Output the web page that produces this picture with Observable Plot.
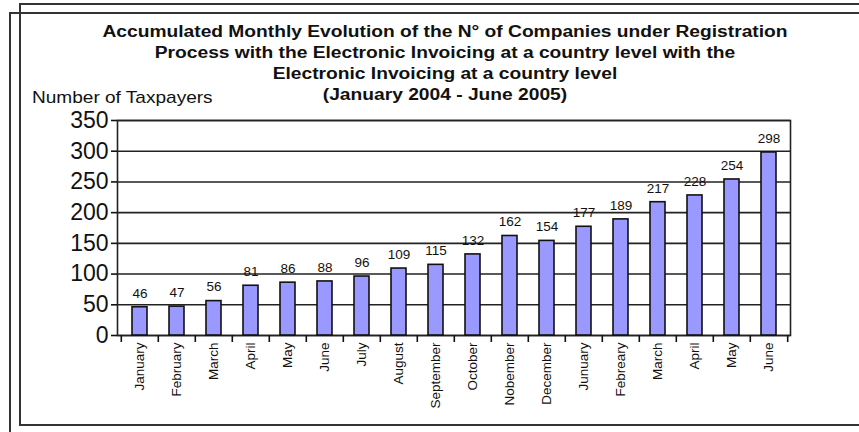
<!DOCTYPE html>
<html>
<head>
<meta charset="utf-8">
<script src="https://cdn.jsdelivr.net/npm/d3@7"></script>
<script src="https://cdn.jsdelivr.net/npm/@observablehq/plot@0.6"></script>
<style>
  html, body { margin: 0; padding: 0; background: #fff; }
  #wrap { position: relative; width: 859px; height: 432px; overflow: hidden; font-family: "Liberation Sans", Arial, sans-serif; }
  #chart { position: absolute; left: 0; top: 0; }
  .box { position: absolute; border: 2px solid #333; box-sizing: border-box; }
  #title { position: absolute; left: 0; top: 21px; width: 890px; text-align: center; font-weight: bold; font-size: 16px; line-height: 21px; color: #111; transform: scaleX(1.2); transform-origin: 445px 0; }
  #ylab { position: absolute; left: 32px; top: 88px; font-size: 17px; color: #111; transform: scaleX(1.12); transform-origin: 0 0; }
</style>
</head>
<body>
<div id="wrap">
  <div id="chart"></div>
  <div class="box" style="left:19px; top:3px; width:900px; height:423px;"></div>
  <div class="box" style="left:9px; top:12px; width:900px; height:440px;"></div>
  <div id="title">Accumulated Monthly Evolution of the N° of Companies under Registration<br>Process with the Electronic Invoicing at a country level with the<br>Electronic Invoicing at a country level<br>(January 2004 - June 2005)</div>
  <div id="ylab">Number of Taxpayers</div>
</div>
<script>
const monthLabels = ["January","February","March","April","May","June","July","August","September","October","Nobember","December","Junuary","Febreary","March","April","May","June"];
const taxpayers = [46,47,56,81,86,88,96,109,115,132,162,154,177,189,217,228,254,298];
const yTicks = [0,50,100,150,200,250,300,350];

const data = monthLabels.map((label, i) => ({i, label, value: taxpayers[i]}));
const idx = d3.range(monthLabels.length);

const W = 859, H = 432, ML = 117, MR = 69, MT = 120, MB = 97;
const step = (W - ML - MR) / monthLabels.length;

const chart = Plot.plot({
  width: W,
  height: H,
  marginLeft: ML,
  marginRight: MR,
  marginTop: MT,
  marginBottom: MB,
  style: {background: "transparent", fontFamily: "Liberation Sans, Arial, sans-serif", color: "#111"},
  x: {type: "band", domain: idx, paddingInner: 0.6, paddingOuter: 0.3},
  y: {domain: [0, 350]},
  marks: [
    Plot.gridY(yTicks, {stroke: "#222", strokeOpacity: 1, strokeWidth: 1.6}),
    Plot.frame({stroke: "#222", strokeWidth: 1.6}),
    Plot.barY(data, {x: "i", y: "value", fill: "#9999ff", stroke: "#111", strokeWidth: 1.6}),
    Plot.text(data, {x: "i", y: "value", text: d => String(d.value), dy: -14, fontSize: 13.5, fill: "#111"}),
    Plot.axisY({ticks: yTicks, tickSize: 6, tickPadding: 3, fontSize: 23, label: null, strokeWidth: 1.6}),
    Plot.axisX({ticks: idx, tickSize: 7, tickFormat: () => "", dx: -step / 2, label: null, strokeWidth: 1.6}),
    Plot.axisX({ticks: [idx[idx.length - 1]], tickSize: 7, tickFormat: () => "", dx: step / 2, label: null, strokeWidth: 1.6}),
    Plot.axisX({ticks: idx, tickSize: 0, tickRotate: -90, tickPadding: 7, tickFormat: i => monthLabels[i], fontSize: 13.5, label: null})
  ]
});
document.getElementById("chart").appendChild(chart);
</script>
</body>
</html>
